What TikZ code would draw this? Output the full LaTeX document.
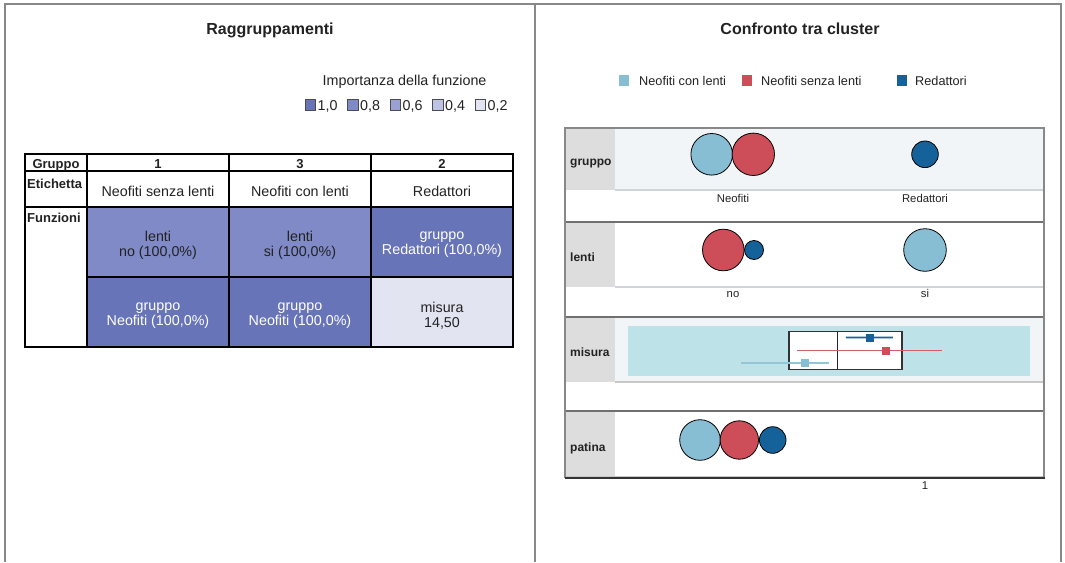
\documentclass[tikz,border=0pt]{standalone}
\usepackage{fontspec}
\setmainfont{Liberation Sans}
\definecolor{imp10}{HTML}{6874B8}
\definecolor{imp08}{HTML}{7F8AC7}
\definecolor{imp06}{HTML}{9AA2D3}
\definecolor{imp04}{HTML}{BEC3E4}
\definecolor{imp02}{HTML}{E2E4F2}
\definecolor{conl}{HTML}{88BED4}
\definecolor{senzl}{HTML}{CD4E59}
\definecolor{redat}{HTML}{15629A}
\definecolor{labgray}{HTML}{DDDDDD}
\definecolor{plotbg}{HTML}{F2F5F8}
\definecolor{boxbg}{HTML}{BDE3E9}
\definecolor{framegray}{HTML}{888888}
\definecolor{sepgray}{HTML}{707070}
\definecolor{axisgray}{HTML}{D0D4D8}
\definecolor{inktext}{HTML}{222222}
\begin{document}
\begin{tikzpicture}[x=1pt,y=-1pt,
  every node/.style={inner sep=0pt, text=inktext},
  titletext/.style={font=\bfseries\fontsize{16}{19}\selectfont, anchor=base},
  bodytext/.style={font=\fontsize{14.3}{15}\selectfont},
  headtext/.style={font=\bfseries\fontsize{13}{15}\selectfont, anchor=base},
  celltext/.style={font=\fontsize{14.3}{15}\selectfont, align=center},
  legtext/.style={font=\fontsize{12.7}{15}\selectfont, anchor=base west},
  vartext/.style={font=\bfseries\fontsize{12}{14}\selectfont, anchor=base west},
  axistext/.style={font=\fontsize{11.3}{13}\selectfont, anchor=base},
  keybox/.style={draw=black!70, line width=0.8},
  tabline/.style={line width=1.6, draw=black},
  bubble/.style={circle, draw=black, line width=0.8, minimum size=#1},
  sep/.style={draw=sepgray, line width=2},
  plotline/.style={draw=axisgray, line width=1.5}
]
\useasboundingbox (0,0) rectangle (1065,562);

% ---------- outer frame ----------
\draw[framegray, line width=1.5] (5,562) -- (5,4) -- (1061,4) -- (1061,562);
\draw[framegray, line width=1.5] (535,4) -- (535,562);

% ---------- left panel ----------
\node[titletext] (titleL) at (270,34.5) {Raggruppamenti};
\node[bodytext, anchor=base] (imptitle) at (404.6,85.5) {Importanza della funzione};

\fill[imp10, keybox] (305,99.5) rectangle (315.5,110);
\node[bodytext, anchor=base west] (k10) at (317.5,110.5) {1,0};
\fill[imp08, keybox] (347.5,99.5) rectangle (358,110);
\node[bodytext, anchor=base west] (k08) at (360,110.5) {0,8};
\fill[imp06, keybox] (390,99.5) rectangle (400.5,110);
\node[bodytext, anchor=base west] (k06) at (402.5,110.5) {0,6};
\fill[imp04, keybox] (432.5,99.5) rectangle (443,110);
\node[bodytext, anchor=base west] (k04) at (445,110.5) {0,4};
\fill[imp02, keybox] (475,99.5) rectangle (485.5,110);
\node[bodytext, anchor=base west] (k02) at (487.5,110.5) {0,2};

% table cells
\fill[imp08] (87,207) rectangle (229,277);
\fill[imp08] (229,207) rectangle (371,277);
\fill[imp10] (371,207) rectangle (513,277);
\fill[imp10] (87,277) rectangle (229,347);
\fill[imp10] (229,277) rectangle (371,347);
\fill[imp02] (371,277) rectangle (513,347);

% table rules
\draw[tabline] (25,171) -- (513,171);
\draw[tabline] (25,207) -- (513,207);
\draw[tabline] (87,277) -- (513,277);
\draw[tabline] (87,154) -- (87,347);
\draw[tabline] (229,154) -- (229,347);
\draw[tabline] (371,154) -- (371,347);
\draw[line width=2.2] (25,154) rectangle (513,347);

% table texts
\node[headtext] (hgr) at (56,168.5) {Gruppo};
\node[headtext] (h1) at (158,168.5) {1};
\node[headtext] (h3) at (300,168.5) {3};
\node[headtext] (h2) at (442,168.5) {2};
\node[headtext, anchor=base west] (hlab) at (27,188) {Etichetta};
\node[headtext, anchor=base west] (hfun) at (27,222.5) {Funzioni};
\node[bodytext, anchor=base] (lab1) at (158,196.5) {Neofiti senza lenti};
\node[bodytext, anchor=base] (lab3) at (300,196.5) {Neofiti con lenti};
\node[bodytext, anchor=base] (lab2) at (442,196.5) {Redattori};
\node[celltext] (c11) at (158,245) {lenti\\no (100,0\%)};
\node[celltext] (c12) at (300,245) {lenti\\si (100,0\%)};
\node[celltext, text=white] (c13) at (442,245) {gruppo\\Redattori (100,0\%)};
\node[celltext, text=white] (c21) at (158,316) {gruppo\\Neofiti (100,0\%)};
\node[celltext, text=white] (c22) at (300,316) {gruppo\\Neofiti (100,0\%)};
\node[celltext] (c23) at (442,316) {misura\\14,50};

% ---------- right panel ----------
\node[titletext] (titleR) at (800,34.5) {Confronto tra cluster};

\fill[conl] (619,75) rectangle (629,86);
\node[legtext] (lgc) at (639,85.5) {Neofiti con lenti};
\fill[senzl] (741.5,75) rectangle (751.5,86);
\node[legtext] (lgs) at (761,85.5) {Neofiti senza lenti};
\fill[redat] (897,75) rectangle (907,86);
\node[legtext] (lgr) at (915,85.5) {Redattori};

% panel backgrounds
\fill[labgray] (565,128) rectangle (615,190);
\fill[plotbg] (615,128) rectangle (1044,190);
\fill[labgray] (565,222) rectangle (615,287);
\fill[labgray] (565,317) rectangle (615,382);
\fill[plotbg] (615,317) rectangle (1044,382);
\fill[boxbg] (628,326) rectangle (1030,376);
\fill[labgray] (565,412) rectangle (615,477);

\draw[plotline] (615,190) -- (1044,190);
\draw[plotline] (615,287) -- (1044,287);
\draw[plotline, draw=black!22] (615,382) -- (1044,382);
\draw[plotline, draw=black!22] (565,476.5) -- (1044,476.5);

% panel separators and frame
\draw[sep] (565,221.5) -- (1044,221.5);
\draw[sep] (565,316.5) -- (1044,316.5);
\draw[sep] (565,411) -- (1044,411);
\draw[framegray, line width=1.5] (565,478) -- (565,128) -- (1044,128) -- (1044,478);
\draw[black!80, line width=1.2] (564.5,478) -- (1044.5,478);

% variable labels
\node[vartext] (vgr) at (570,165) {gruppo};
\node[vartext] (vle) at (570,261.5) {lenti};
\node[vartext] (vmi) at (570,356) {misura};
\node[vartext] (vpa) at (570,451) {patina};

% gruppo bubbles
\node[bubble=41.6pt, fill=conl] (g1) at (711.7,154.3) {};
\node[bubble=42.4pt, fill=senzl] (g2) at (753.3,154.3) {};
\node[bubble=26.6pt, fill=redat] (g3) at (925,154.3) {};
\node[axistext] (ag1) at (733,202) {Neofiti};
\node[axistext] (ag2) at (925,202) {Redattori};

% lenti bubbles
\node[bubble=41.6pt, fill=senzl] (l1) at (723.3,250) {};
\node[bubble=19pt, fill=redat] (l2) at (754,250) {};
\node[bubble=42.6pt, fill=conl] (l3) at (925,250) {};
\node[axistext] (al1) at (733,297.5) {no};
\node[axistext] (al2) at (925,297.5) {si};

% misura box plot
\draw[fill=white, draw=black!80, line width=1.4] (789,331.7) rectangle (902,369.3);
\draw[black!85, line width=1.2] (837.7,331.7) -- (837.7,369.3);
\coordinate (mb1) at (845.7,337.7);
\coordinate (mb2) at (893.3,337.7);
\coordinate (ms1) at (797.3,350.7);
\coordinate (ms2) at (941.7,350.7);
\coordinate (mc1) at (741,363);
\coordinate (mc2) at (829.3,363);
\draw[redat!35, line width=3] (mb1) -- (mb2);
\draw[redat, line width=1] (mb1) -- (mb2);
\draw[senzl!90, line width=1.5] (ms1) -- (ms2);
\draw[conl!90, line width=2] (mc1) -- (mc2);
\node[fill=redat, minimum size=8pt] (mbq) at (869.7,337.7) {};
\node[fill=senzl, minimum size=8pt] (msq) at (886,350.7) {};
\node[fill=conl, minimum size=8pt] (mcq) at (805,363) {};

% patina bubbles
\node[bubble=40.6pt, fill=conl] (p1) at (700,440) {};
\node[bubble=38.4pt, fill=senzl] (p2) at (739.3,440) {};
\node[bubble=26.6pt, fill=redat] (p3) at (772.7,440) {};

\node[axistext] (axone) at (925,489) {1};
\end{tikzpicture}
\end{document}
